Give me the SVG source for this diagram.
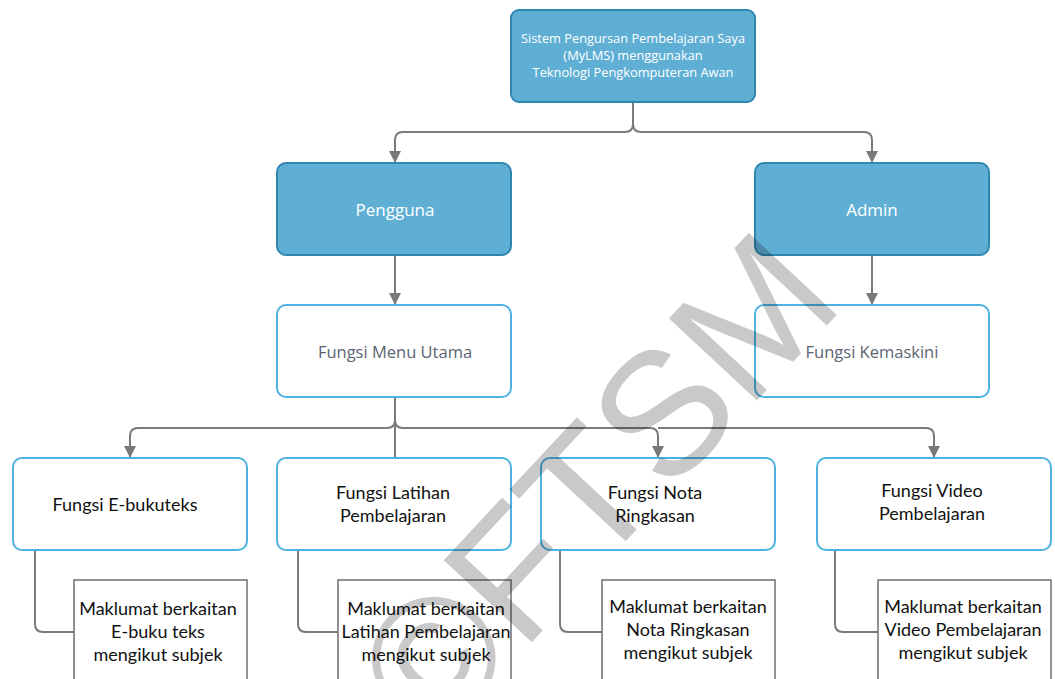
<svg xmlns="http://www.w3.org/2000/svg" width="1055" height="679" viewBox="0 0 1055 679">
<style>
.blue{fill:#5fafd5;stroke:#2f86b1;stroke-width:2}
.white{fill:#fff;stroke:#4cb3e1;stroke-width:2}
.sub{fill:#fff;stroke:#777;stroke-width:1.6}
.con{fill:none;stroke:#7a7a7a;stroke-width:2}
.t1{font-family:"Open Sans","Noto Sans",sans-serif;font-size:12.8px;fill:#fff;text-anchor:middle}
.t2{font-family:"Open Sans","Noto Sans",sans-serif;font-size:17px;fill:#fff;text-anchor:middle}
.t3{font-family:"Open Sans","Noto Sans",sans-serif;font-size:16.5px;fill:#5b6472;text-anchor:middle}
.t4{font-family:Lato,"Open Sans",sans-serif;font-size:18px;fill:#111;text-anchor:middle}
.wm{font-family:"Liberation Sans",Arial,sans-serif;font-size:175px;fill:#000;fill-opacity:0.21}
</style>
<defs>
<marker id="arr" markerUnits="userSpaceOnUse" markerWidth="14" markerHeight="12" refX="12" refY="6" orient="auto">
<path d="M0,0 L12,6 L0,12 Z" fill="#7a7a7a"/>
</marker>
</defs>
<g id="connectors">
<path class="con" marker-end="url(#arr)" d="M633,102 V124 Q633,132 625,132 H403 Q395,132 395,140 V163"/>
<path class="con" marker-end="url(#arr)" d="M633,124 Q633,132 641,132 H864 Q872,132 872,140 V163"/>
<path class="con" marker-end="url(#arr)" d="M395,255 V305"/>
<path class="con" marker-end="url(#arr)" d="M872,255 V305"/>
<path class="con" d="M395,398 V458"/>
<path class="con" marker-end="url(#arr)" d="M395,420 Q395,428 387,428 H138 Q130,428 130,436 V458"/>
<path class="con" marker-end="url(#arr)" d="M395,420 Q395,428 403,428 H650 Q658,428 658,436 V458"/>
<path class="con" marker-end="url(#arr)" d="M658,428 H926 Q934,428 934,436 V458"/>
<path class="con" d="M35,550 V624 Q35,632 43,632 H74"/>
<path class="con" d="M298,550 V624 Q298,632 306,632 H338"/>
<path class="con" d="M560,550 V624 Q560,632 568,632 H602"/>
<path class="con" d="M835,550 V624 Q835,632 843,632 H878"/>
</g>
<g id="root">
<rect class="blue" x="511" y="10" width="244" height="92" rx="8"/>
<text class="t1" x="633" y="43">Sistem Pengursan Pembelajaran Saya</text>
<text class="t1" x="633" y="60">(MyLMS) menggunakan</text>
<text class="t1" x="633" y="77">Teknologi Pengkomputeran Awan</text>
</g>
<g id="pengguna">
<rect class="blue" x="277" y="163" width="234" height="92" rx="9"/>
<text class="t2" x="395" y="216">Pengguna</text>
</g>
<g id="admin">
<rect class="blue" x="755" y="163" width="234" height="92" rx="9"/>
<text class="t2" x="872" y="216">Admin</text>
</g>
<g id="menu-utama">
<rect class="white" x="277" y="305" width="234" height="92" rx="9"/>
<text class="t3" x="395" y="358">Fungsi Menu Utama</text>
</g>
<g id="kemaskini">
<rect class="white" x="755" y="305" width="234" height="92" rx="9"/>
<text class="t3" x="872" y="358">Fungsi Kemaskini</text>
</g>
<g id="ebuku">
<rect class="white" x="13" y="458" width="234" height="92" rx="9"/>
<text class="t4" x="125" y="511">Fungsi E-bukuteks</text>
</g>
<g id="latihan">
<rect class="white" x="277" y="458" width="234" height="92" rx="9"/>
<text class="t4" x="393" y="499">Fungsi Latihan</text>
<text class="t4" x="393" y="522">Pembelajaran</text>
</g>
<g id="nota">
<rect class="white" x="541" y="458" width="234" height="92" rx="9"/>
<text class="t4" x="655" y="499">Fungsi Nota</text>
<text class="t4" x="655" y="522">Ringkasan</text>
</g>
<g id="video">
<rect class="white" x="817" y="458" width="234" height="92" rx="9"/>
<text class="t4" x="932" y="497">Fungsi Video</text>
<text class="t4" x="932" y="520">Pembelajaran</text>
</g>
<g id="info-ebuku">
<rect class="sub" x="74" y="580" width="173" height="110"/>
<text class="t4" x="158" y="615">Maklumat berkaitan</text>
<text class="t4" x="158" y="638">E-buku teks</text>
<text class="t4" x="158" y="661">mengikut subjek</text>
</g>
<g id="info-latihan">
<rect class="sub" x="338" y="580" width="173" height="110"/>
<text class="t4" x="426" y="615">Maklumat berkaitan</text>
<text class="t4" x="426" y="638">Latihan Pembelajaran</text>
<text class="t4" x="426" y="661">mengikut subjek</text>
</g>
<g id="info-nota">
<rect class="sub" x="602" y="580" width="173" height="110"/>
<text class="t4" x="688" y="613">Maklumat berkaitan</text>
<text class="t4" x="688" y="636">Nota Ringkasan</text>
<text class="t4" x="688" y="659">mengikut subjek</text>
</g>
<g id="info-video">
<rect class="sub" x="878" y="580" width="173" height="110"/>
<text class="t4" x="963" y="613">Maklumat berkaitan</text>
<text class="t4" x="963" y="636">Video Pembelajaran</text>
<text class="t4" x="963" y="659">mengikut subjek</text>
</g>
<text class="wm" x="434" y="747" transform="rotate(-47 434 747)">©FTSM</text>
</svg>
